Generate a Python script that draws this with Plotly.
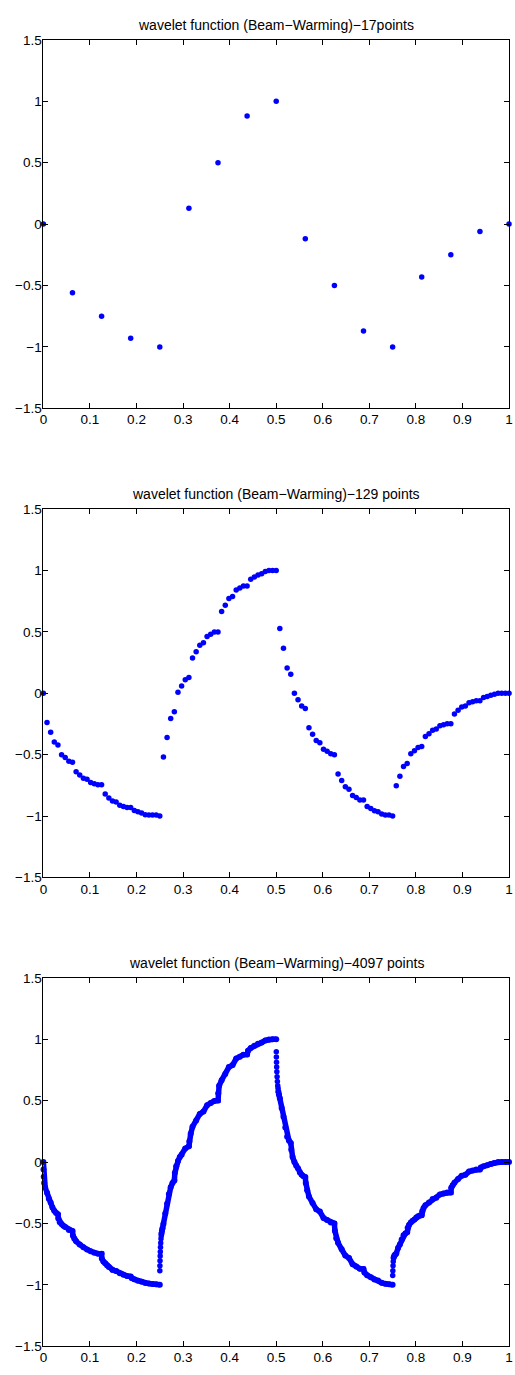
import numpy as np
import plotly.graph_objects as go

# ---------------------------------------------------------------
# Sampled wavelet values (Beam-Warming scheme) at three resolutions
# ---------------------------------------------------------------
x_17 = np.linspace(0.0, 1.0, 17)
y_17 = [0.0, -0.56, -0.75, -0.93, -1.0, 0.13, 0.5, 0.88, 1.0,
        -0.12, -0.5, -0.87, -1.0, -0.43, -0.25, -0.06, 0.0]

x_129 = np.linspace(0.0, 1.0, 129)
y_129 = [
    # 0 .. 0.25
    0.0, -0.238, -0.318, -0.396, -0.422, -0.5, -0.524, -0.553, -0.561,
    -0.639, -0.666, -0.693, -0.701, -0.727, -0.738, -0.746, -0.746,
    -0.821, -0.853, -0.877, -0.885, -0.912, -0.922, -0.930, -0.930,
    -0.955, -0.965, -0.976, -0.989, -0.992, -0.992, -0.992, -1.0,
    # 0.25 .. 0.5
    -0.519, -0.361, -0.206, -0.15, 0.008, 0.059, 0.11, 0.128,
    0.287, 0.338, 0.391, 0.411, 0.463, 0.481, 0.5, 0.5,
    0.666, 0.717, 0.773, 0.789, 0.842, 0.858, 0.874, 0.874,
    0.928, 0.947, 0.963, 0.973, 0.992, 1.0, 1.0, 1.0,
    # 0.5 .. 0.75
    0.527, 0.366, 0.206, 0.155, 0.0, -0.053, -0.104, -0.123,
    -0.281, -0.334, -0.385, -0.404, -0.455, -0.473, -0.492, -0.5,
    -0.658, -0.711, -0.762, -0.781, -0.832, -0.850, -0.869, -0.869,
    -0.922, -0.939, -0.957, -0.965, -0.984, -0.992, -0.992, -1.0,
    # 0.75 .. 1
    -0.754, -0.676, -0.596, -0.572, -0.492, -0.468, -0.441, -0.433,
    -0.353, -0.329, -0.302, -0.291, -0.265, -0.257, -0.249, -0.249,
    -0.168, -0.139, -0.112, -0.104, -0.078, -0.070, -0.061, -0.061,
    -0.035, -0.027, -0.016, -0.008, 0.0, 0.0, 0.0, 0.0,
]

# 4097-point sampling: the dense dots merge into continuous branches
fine_a_x = [0, 0.0003, 0.0008, 0.0017, 0.0039, 0.0078, 0.0117, 0.0156, 0.0195, 0.0234,
            0.0273, 0.0313, 0.0322, 0.0352, 0.0391, 0.043, 0.0469, 0.0547, 0.0625, 0.0635,
            0.0664, 0.0703, 0.0781, 0.0859, 0.0938, 0.1016, 0.1094, 0.1172, 0.125, 0.1255,
            0.1289, 0.1328, 0.1367, 0.1406, 0.1484, 0.1563, 0.1641, 0.1719, 0.1797, 0.1875,
            0.1895, 0.1953, 0.2031, 0.2109, 0.2188, 0.2266, 0.2344, 0.2422, 0.25]
fine_a_y = [0, -0.06, -0.12, -0.17, -0.21, -0.25, -0.30, -0.33, -0.37, -0.397,
            -0.415, -0.425, -0.46, -0.49, -0.505, -0.52, -0.53, -0.553, -0.562, -0.60,
            -0.625, -0.645, -0.672, -0.695, -0.712, -0.727, -0.738, -0.746, -0.748, -0.785,
            -0.81, -0.825, -0.84, -0.855, -0.878, -0.888, -0.905, -0.918, -0.928, -0.932,
            -0.945, -0.955, -0.966, -0.976, -0.985, -0.99, -0.993, -0.995, -1.0]

fine_b_x = [0.2535, 0.2546, 0.2558, 0.2578, 0.2617, 0.2656, 0.2695, 0.2734, 0.2773, 0.2813,
            0.2823, 0.2852, 0.2891, 0.293, 0.2969, 0.3047, 0.3125, 0.3135, 0.3164, 0.3203,
            0.3281, 0.3359, 0.3438, 0.3516, 0.3594, 0.3672, 0.375, 0.3755, 0.3774, 0.3828,
            0.3906, 0.3984, 0.4063, 0.4141, 0.4219, 0.4297, 0.4375, 0.4395, 0.4453, 0.4531,
            0.4609, 0.4688, 0.4766, 0.4844, 0.4922, 0.5]
fine_b_y = [-0.585, -0.56, -0.54, -0.505, -0.42, -0.34, -0.26, -0.206, -0.17, -0.15,
            -0.09, -0.035, 0.008, 0.04, 0.059, 0.11, 0.128, 0.17, 0.23, 0.287,
            0.338, 0.391, 0.411, 0.463, 0.481, 0.497, 0.5, 0.56, 0.62, 0.666,
            0.717, 0.773, 0.789, 0.842, 0.858, 0.874, 0.876, 0.905, 0.928, 0.947,
            0.963, 0.973, 0.99, 0.998, 1.0, 1.0]

fine_c_x = [0.5045, 0.5058, 0.5078, 0.5117, 0.5156, 0.5195, 0.5234, 0.5273, 0.5313, 0.5323,
            0.5352, 0.5391, 0.543, 0.5469, 0.5508, 0.5547, 0.5586, 0.5625, 0.5635, 0.5664,
            0.5703, 0.5781, 0.5859, 0.5938, 0.6016, 0.6094, 0.6172, 0.625, 0.626, 0.6289,
            0.6328, 0.6406, 0.6484, 0.6563, 0.6641, 0.6719, 0.6797, 0.6875, 0.6895, 0.6953,
            0.7031, 0.7109, 0.7188, 0.7266, 0.7344, 0.7422, 0.75]
fine_c_y = [0.575, 0.55, 0.52, 0.44, 0.369, 0.28, 0.206, 0.175, 0.155, 0.10,
            0.04, 0.0, -0.03, -0.053, -0.085, -0.104, -0.115, -0.123, -0.17, -0.23,
            -0.281, -0.334, -0.385, -0.404, -0.455, -0.473, -0.492, -0.5, -0.56, -0.62,
            -0.658, -0.711, -0.762, -0.781, -0.832, -0.85, -0.869, -0.872, -0.90, -0.922,
            -0.939, -0.957, -0.965, -0.984, -0.992, -0.995, -1.0]

fine_d_x = [0.752, 0.7532, 0.755, 0.7578, 0.7617, 0.7656, 0.7695, 0.7734, 0.7773, 0.7813,
            0.7823, 0.7852, 0.7891, 0.793, 0.7969, 0.8008, 0.8047, 0.8086, 0.8125, 0.8135,
            0.8164, 0.8203, 0.8281, 0.8359, 0.8438, 0.8516, 0.8594, 0.8672, 0.875, 0.876,
            0.8789, 0.8828, 0.8906, 0.8984, 0.9063, 0.9141, 0.9219, 0.9297, 0.9375, 0.9395,
            0.9453, 0.9531, 0.9609, 0.9688, 0.9766, 0.9844, 0.9922, 1.0]
fine_d_y = [-0.78, -0.765, -0.755, -0.745, -0.70, -0.672, -0.63, -0.596, -0.582, -0.572,
            -0.535, -0.512, -0.492, -0.478, -0.468, -0.452, -0.441, -0.436, -0.433, -0.40,
            -0.375, -0.353, -0.329, -0.302, -0.291, -0.265, -0.257, -0.249, -0.249, -0.21,
            -0.19, -0.168, -0.139, -0.112, -0.104, -0.078, -0.07, -0.061, -0.061, -0.045,
            -0.035, -0.027, -0.016, -0.008, 0.0, 0.0, 0.0, 0.0]

# isolated dots right after the jumps at x = 1/4, 1/2, 3/4
steep_x = [0.2501, 0.2503, 0.2505, 0.2508, 0.2511, 0.2515, 0.252, 0.2526, 0.2532,
           0.5002, 0.5004, 0.5007, 0.501, 0.5014, 0.5019, 0.5025, 0.5033, 0.504,
           0.7502, 0.7505, 0.7509, 0.7514]
steep_y = [-0.885, -0.845, -0.805, -0.765, -0.73, -0.695, -0.66, -0.625, -0.6,
           0.898, 0.855, 0.813, 0.773, 0.735, 0.695, 0.655, 0.62, 0.6,
           -0.925, -0.885, -0.845, -0.81]

titles = [
    "wavelet function (Beam\u2212Warming)\u221217points",
    "wavelet function (Beam\u2212Warming)\u2212129 points",
    "wavelet function (Beam\u2212Warming)\u22124097 points",
]

# ---------------------------------------------------------------
# Figure
# ---------------------------------------------------------------
W, H = 515, 1375
BLUE = "#0000ff"
FONT = "Liberation Sans, Arial, Helvetica, sans-serif"

fig = go.Figure()

dot = dict(color=BLUE, size=5.5, line=dict(width=0))

fig.add_trace(go.Scatter(x=x_17, y=y_17, mode="markers", marker=dot,
                         cliponaxis=False, xaxis="x", yaxis="y"))
fig.add_trace(go.Scatter(x=x_129, y=y_129, mode="markers", marker=dot,
                         cliponaxis=False, xaxis="x2", yaxis="y2"))

for fx, fy in [(fine_a_x, fine_a_y), (fine_b_x, fine_b_y),
               (fine_c_x, fine_c_y), (fine_d_x, fine_d_y)]:
    fig.add_trace(go.Scatter(x=fx, y=fy, mode="lines+markers",
                             line=dict(color=BLUE, width=5.5),
                             marker=dict(color=BLUE, size=6, line=dict(width=0)),
                             cliponaxis=False, xaxis="x3", yaxis="y3"))
fig.add_trace(go.Scatter(x=steep_x, y=steep_y, mode="markers",
                         marker=dict(color=BLUE, size=5.5, line=dict(width=0)),
                         cliponaxis=False, xaxis="x3", yaxis="y3"))

# panel boxes: (top, bottom) in pixels from the top of the page
boxes = [(33.3, 405.7), (507.7, 880.0), (981.5, 1354.0)]
x_dom = [40 / W, 513 / W]

tickfont = dict(family=FONT, size=13.5, color="black")
common = dict(showline=True, linecolor="black", linewidth=1, mirror="ticks",
              ticks="inside", ticklen=5, tickwidth=1, tickcolor="black",
              showgrid=False, zeroline=False, tickfont=tickfont, fixedrange=True,
              ticklabeloverflow="allow")

layout = dict(
    width=W, height=H,
    margin=dict(l=0, r=0, t=0, b=0),
    paper_bgcolor="white", plot_bgcolor="white",
    showlegend=False,
    font=dict(family=FONT, color="black"),
)
annotations = []
for i, (top, bottom) in enumerate(boxes):
    sfx = "" if i == 0 else str(i + 1)
    layout["xaxis" + sfx] = dict(common, domain=x_dom, range=[0, 1], tick0=0, dtick=0.1,
                                 anchor="y" + sfx, ticklabelstandoff=-1)
    layout["yaxis" + sfx] = dict(common, domain=[1 - bottom / H, 1 - top / H],
                                 range=[-1.5, 1.5], tick0=-1.5, dtick=0.5,
                                 anchor="x" + sfx, ticklabelstandoff=-2)
    annotations.append(dict(text=titles[i], x=0.5, y=1, xref="x%s domain" % sfx,
                            yref="y%s domain" % sfx, xanchor="center", yanchor="bottom",
                            yshift=5, showarrow=False,
                            font=dict(family=FONT, size=14, color="black")))
layout["annotations"] = annotations
fig.update_layout(**layout)

fig.write_html("out.html")
